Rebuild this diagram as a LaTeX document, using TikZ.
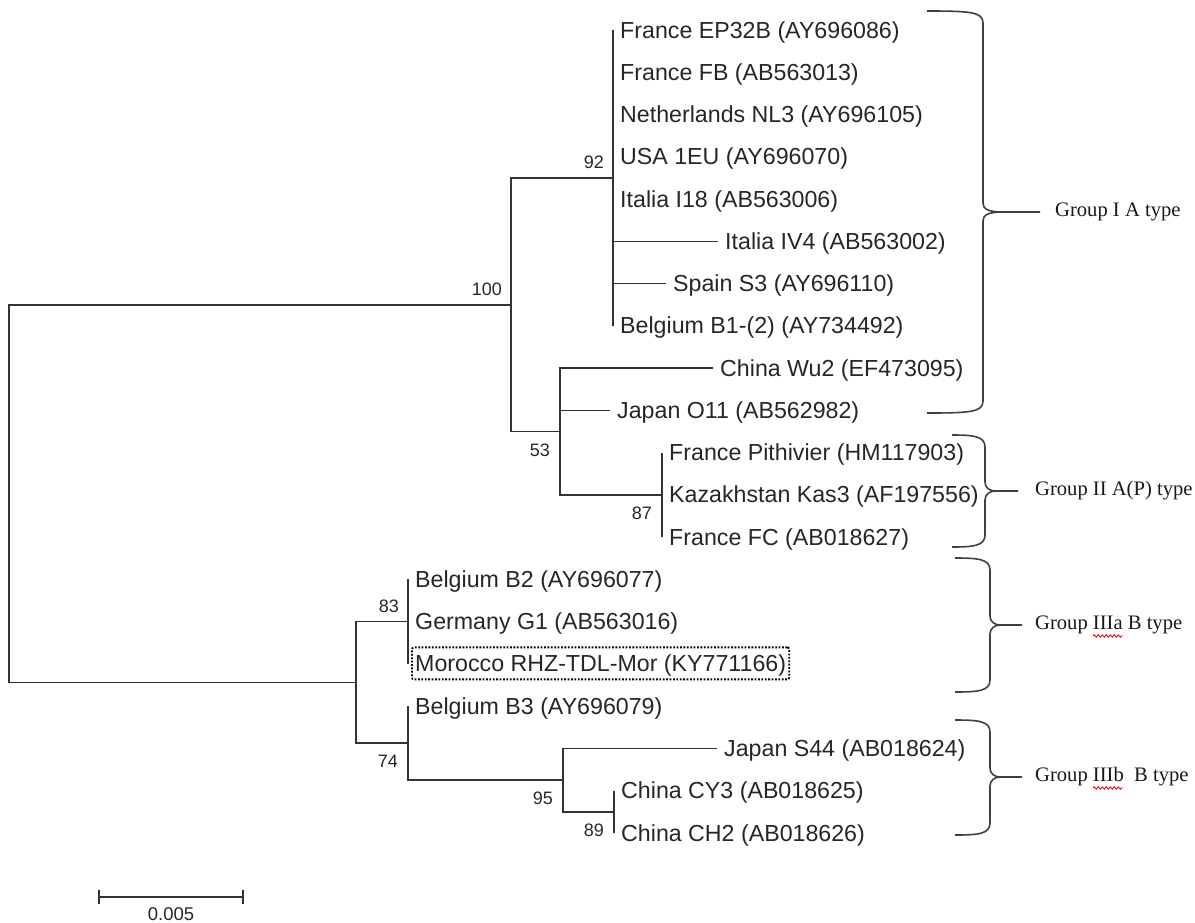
\documentclass[tikz,border=0pt]{standalone}
\usepackage{fontspec}
\setmainfont{Liberation Sans}
\newfontfamily\grpfont{Liberation Serif}
\usetikzlibrary{fit,calc,decorations.pathmorphing}
\newcommand\grpbrace[7]{% xl xv xb xt yt ym yb
  \draw[bracel] (#1,#5) .. controls (#2-12,#5) and (#2,#5+1) .. (#2,#5+12)
    -- (#2,#6-9) .. controls (#2,#6-3) and (#2+5,#6) .. (#3,#6) -- (#4,#6);
  \draw[bracel] (#3,#6) .. controls (#2+5,#6) and (#2,#6+3) .. (#2,#6+9)
    -- (#2,#7-12) .. controls (#2,#7-1) and (#2-12,#7) .. (#1,#7);
}
\begin{document}
\begin{tikzpicture}[x=1pt,y=-1pt,
  branch/.style={line width=1.6pt, draw=black!80, line join=miter},
  leaf/.style={anchor=base west, inner sep=0pt, font=\fontsize{23.2}{26}\selectfont, text=black!85, yshift=-8pt, xshift=7pt},
  bsabove/.style={anchor=base east, inner sep=0pt, font=\fontsize{18}{20}\selectfont, text=black!85, xshift=-9pt, yshift=9.5pt},
  bsbelow/.style={anchor=base east, inner sep=0pt, font=\fontsize{18}{20}\selectfont, text=black!85, xshift=-10pt, yshift=-24.5pt},
  grp/.style={anchor=west, inner sep=0pt, font=\grpfont\fontsize{20.6}{22}\selectfont, text=black!90},
  bracel/.style={line width=1.6pt, draw=black!75},
  morbox/.style={draw=black, line width=1.9pt, dash pattern=on 1.8pt off 1.6pt, rounded corners=2pt, inner sep=0pt},
  spell/.style={draw=red!85!black, line width=0.8pt, decorate, decoration={snake, amplitude=1.2pt, segment length=4pt}},
]
\useasboundingbox (0,0) rectangle (1195,922);

% leaf tips
\coordinate (t1) at (613,30.0);
\coordinate (t2) at (613,72.3);
\coordinate (t3) at (613,114.5);
\coordinate (t4) at (613,156.8);
\coordinate (t5) at (613,199.0);
\coordinate (t6) at (718,241.3);
\coordinate (t7) at (666,283.6);
\coordinate (t8) at (613,325.8);
\coordinate (t9) at (713,368.1);
\coordinate (t10) at (610,410.3);
\coordinate (t11) at (662,452.6);
\coordinate (t12) at (662,494.9);
\coordinate (t13) at (662,537.1);
\coordinate (t14) at (408,579.4);
\coordinate (t15) at (408,621.6);
\coordinate (t16) at (408,663.9);
\coordinate (t17) at (408,706.2);
\coordinate (t18) at (717,748.4);
\coordinate (t19) at (614,790.7);
\coordinate (t20) at (614,833.0);

% internal nodes
\coordinate (n92) at (613,177.9);
\coordinate (n87) at (662,494.9);
\coordinate (n53) at (560,431.5);
\coordinate (n100) at (511,304.7);
\coordinate (n83) at (408,621.6);
\coordinate (n89) at (614,811.9);
\coordinate (n95) at (563,780.1);
\coordinate (n74) at (408,743.2);
\coordinate (nB) at (356,682.4);
\coordinate (root) at (9,493.5);

% branches
\draw[branch] (n92) |- (t1) (n92) |- (t2) (n92) |- (t3) (n92) |- (t4)
  (n92) |- (t5) (n92) |- (t6) (n92) |- (t7) (n92) |- (t8);
\draw[branch] (n87) |- (t11) (n87) |- (t13);
\draw[branch] (n53) |- (t9) (n53) |- (t10) (n53) |- (n87);
\draw[branch] (n100) |- (n92) (n100) |- (n53);
\draw[branch] (root) |- (n100) (root) |- (nB);
\draw[branch] (nB) |- (n83) (nB) |- (n74);
\draw[branch] (n83) |- (t14) (n83) |- (t16);
\draw[branch] (n74) |- (t17) (n74) |- (n95);
\draw[branch] (n95) |- (t18) (n95) |- (n89);
\draw[branch] (n89) |- (t19) (n89) |- (t20);

% leaf labels
\node[leaf] (L1) at (t1) {France EP32B (AY696086)};
\node[leaf] (L2) at (t2) {France FB (AB563013)};
\node[leaf] (L3) at (t3) {Netherlands NL3 (AY696105)};
\node[leaf] (L4) at (t4) {USA 1EU (AY696070)};
\node[leaf] (L5) at (t5) {Italia I18 (AB563006)};
\node[leaf] (L6) at (t6) {Italia IV4 (AB563002)};
\node[leaf] (L7) at (t7) {Spain S3 (AY696110)};
\node[leaf] (L8) at (t8) {Belgium B1-(2) (AY734492)};
\node[leaf] (L9) at (t9) {China Wu2 (EF473095)};
\node[leaf] (L10) at (t10) {Japan O11 (AB562982)};
\node[leaf] (L11) at (t11) {France Pithivier (HM117903)};
\node[leaf] (L12) at (t12) {Kazakhstan Kas3 (AF197556)};
\node[leaf] (L13) at (t13) {France FC (AB018627)};
\node[leaf] (L14) at (t14) {Belgium B2 (AY696077)};
\node[leaf] (L15) at (t15) {Germany G1 (AB563016)};
\node[leaf] (L16) at (t16) {Morocco RHZ-TDL-Mor (KY771166)};
\node[leaf] (L17) at (t17) {Belgium B3 (AY696079)};
\node[leaf] (L18) at (t18) {Japan S44 (AB018624)};
\node[leaf] (L19) at (t19) {China CY3 (AB018625)};
\node[leaf] (L20) at (t20) {China CH2 (AB018626)};

% dotted box round the Moroccan isolate
\coordinate (bxa) at ($(t16)+(4,-16.5)$);
\coordinate (bxb) at ($(t16)+(4,15.5)$);
\coordinate (bxc) at ([xshift=3pt]L16.east);
\node[morbox, fit=(bxa)(bxb)(bxc)] (box) {};

% bootstrap values
\node[bsabove] (b100) at (n100) {100};
\node[bsabove] (b92) at (n92) {92};
\node[bsbelow] (b53) at (n53) {53};
\node[bsbelow] (b87) at (n87) {87};
\node[bsabove] (b83) at (n83) {83};
\node[bsbelow] (b74) at (n74) {74};
\node[bsbelow] (b95) at (n95) {95};
\node[bsbelow] (b89) at (n89) {89};

% braces and group labels
\grpbrace{927}{983}{1003}{1040}{11}{212}{413}
\grpbrace{952}{985}{995}{1018}{435}{491}{547}
\grpbrace{955}{990}{1000}{1022}{558}{625}{692}
\grpbrace{955}{990}{1000}{1022}{720}{777}{835}
\coordinate (g1) at (1040,212);
\coordinate (g2) at (1018,491);
\coordinate (g3) at (1022,625);
\coordinate (g4) at (1022,777);
\node[grp] (G1) at ([xshift=15pt]g1) {Group I A type};
\node[grp] (G2) at ([xshift=17pt]g2) {Group II A(P) type};
\node[grp] (G3) at ([xshift=13pt]g3) {Group IIIa B type};
\node[grp] (G4) at ([xshift=13pt]g4) {Group IIIb\ \ B type};
\draw[spell] (1093,636) -- (1123,636);
\draw[spell] (1093,788) -- (1123,788);

% scale bar
\coordinate (s1) at (99,897);
\coordinate (s2) at (243,897);
\draw[branch] (s1) -- (s2);
\draw[branch] ([yshift=7pt]s1) -- ([yshift=-7pt]s1);
\draw[branch] ([yshift=7pt]s2) -- ([yshift=-7pt]s2);
\node[anchor=base, inner sep=0pt, font=\fontsize{18.5}{20}\selectfont, text=black!85] (sl) at (171,920.5) {0.005};
\end{tikzpicture}
\end{document}
